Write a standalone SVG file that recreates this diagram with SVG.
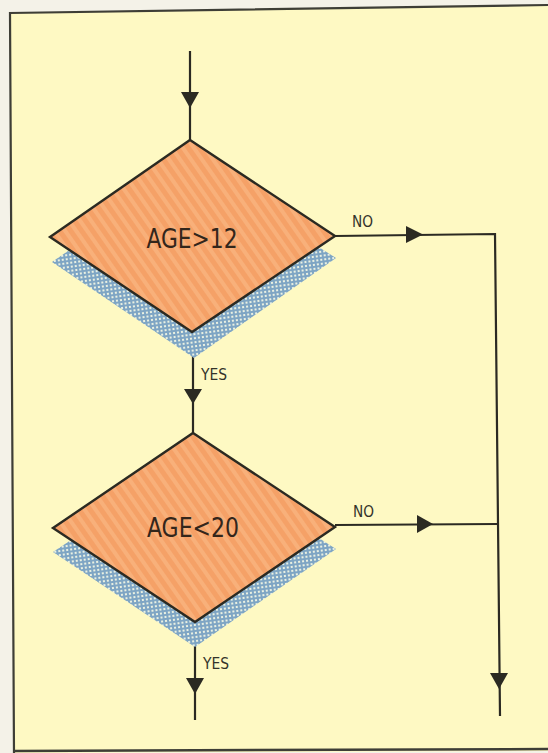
<svg xmlns="http://www.w3.org/2000/svg" width="548" height="753" viewBox="0 0 548 753">
  <style>
    .ln { stroke: #2b2a22; stroke-width: 2.2; fill: none; }
    .ah { fill: #2b2a22; stroke: none; }
    .dia { fill: url(#stripes); stroke: #2b2a22; stroke-width: 2.4; stroke-linejoin: miter; }
    .shadow { fill: url(#hatch); stroke: none; }
    .big { font-family: "Liberation Sans Narrow", "DejaVu Sans Condensed", "Liberation Sans", sans-serif; font-size: 27px; fill: #33261b; }
    .lbl { font-family: "Liberation Sans Narrow", "DejaVu Sans Condensed", "Liberation Sans", sans-serif; font-size: 16px; fill: #33332a; }
  </style>
  <defs>
    <pattern id="stripes" width="9" height="9" patternUnits="userSpaceOnUse" patternTransform="rotate(-35)">
      <rect width="9" height="9" fill="#f5a167"/>
      <rect width="4" height="9" fill="#f8b07a"/>
    </pattern>
    <pattern id="hatch" width="4" height="4" patternUnits="userSpaceOnUse" patternTransform="rotate(-8)">
      <rect width="4" height="4" fill="#7ea5c4"/>
      <rect x="1" y="1" width="2" height="2" fill="#e9f0e2"/>
    </pattern>
  </defs>

  <rect width="548" height="753" fill="#f4f2e8"/>
  <polygon points="10,13 548,5 548,751 14,753" fill="#fef9c3"/>
  <polyline points="14,753 10,13 548,5" fill="none" stroke="#3e3e36" stroke-width="2.2"/>
  <line x1="14" y1="751" x2="548" y2="749" stroke="#3e3e36" stroke-width="2.5"/>

  <g id="connectors">
    <line class="ln" x1="190" y1="51" x2="190" y2="140"/>
    <polygon class="ah" points="181,92 199,92 190,108"/>

    <line class="ln" x1="193" y1="332" x2="193" y2="433"/>
    <polygon class="ah" points="184,389 202,389 193,404"/>
    <text class="lbl" x="201" y="380" textLength="26" lengthAdjust="spacingAndGlyphs">YES</text>

    <polyline class="ln" points="335,236 495,234 500,716"/>
    <polygon class="ah" points="406,226 406,243 423,234.5"/>
    <text class="lbl" x="352" y="227" textLength="21" lengthAdjust="spacingAndGlyphs">NO</text>
    <polygon class="ah" points="490,673 508,673 499,689"/>

    <line class="ln" x1="335" y1="525" x2="498" y2="524"/>
    <polygon class="ah" points="417,515 417,533 433,524"/>
    <text class="lbl" x="353" y="517" textLength="21" lengthAdjust="spacingAndGlyphs">NO</text>

    <line class="ln" x1="195" y1="622" x2="195" y2="720"/>
    <polygon class="ah" points="186,678 204,678 195,694"/>
    <text class="lbl" x="203" y="669" textLength="26" lengthAdjust="spacingAndGlyphs">YES</text>
  </g>

  <g id="decision1">
    <polygon class="shadow" points="191,166 336,258 194,358 52,262"/>
    <polygon class="dia" points="190,140 335,236 192,332 50,237"/>
    <text class="big" x="192" y="248" text-anchor="middle" textLength="91" lengthAdjust="spacingAndGlyphs">AGE&gt;12</text>
  </g>

  <g id="decision2">
    <polygon class="shadow" points="194,458 336,549 195,647 53,552"/>
    <polygon class="dia" points="193,433 335,527 195,622 53,528"/>
    <text class="big" x="193" y="537" text-anchor="middle" textLength="92" lengthAdjust="spacingAndGlyphs">AGE&lt;20</text>
  </g>
</svg>
